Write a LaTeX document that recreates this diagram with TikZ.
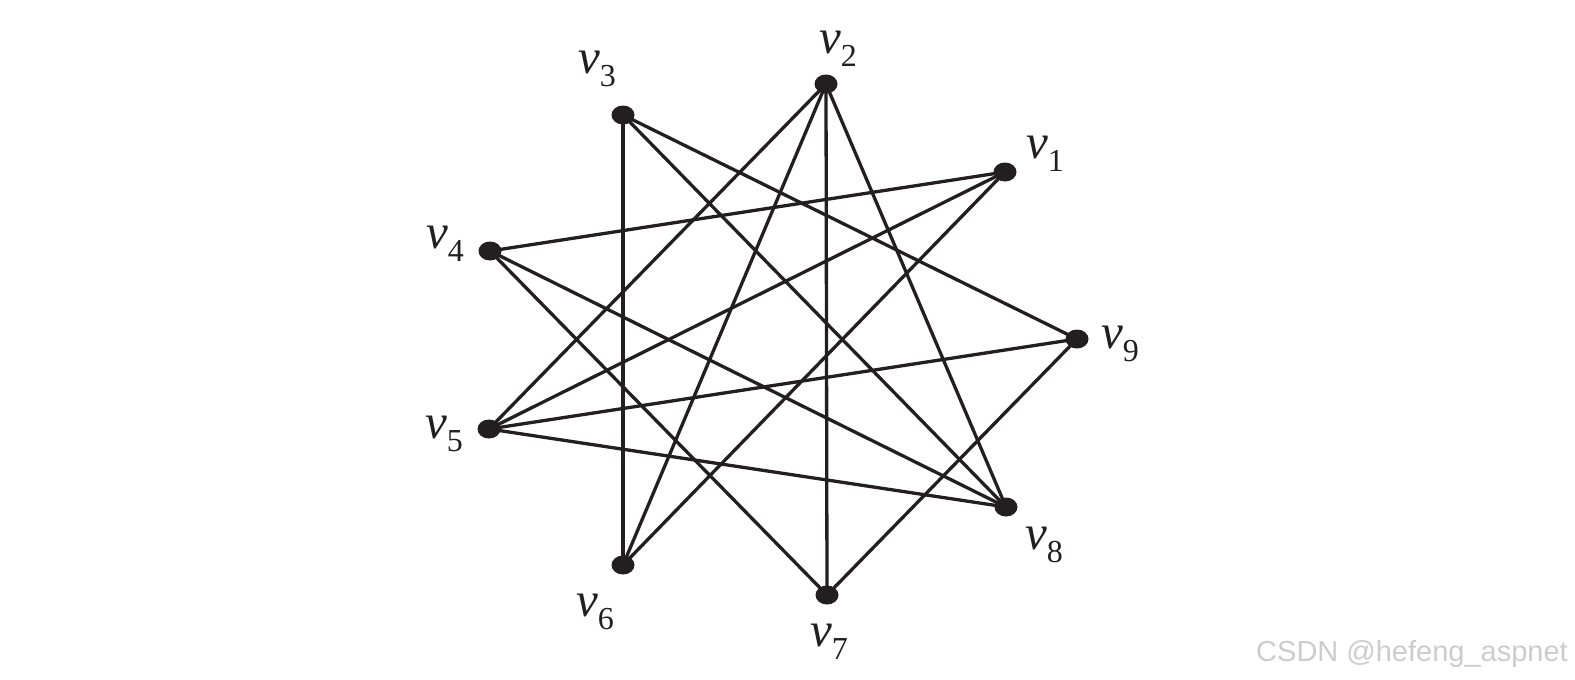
\documentclass[tikz,border=0pt]{standalone}
\usepackage{fontspec}
\setmainfont{Liberation Serif}
\newfontfamily\wmfont{Liberation Sans}
\usetikzlibrary{shapes.geometric,backgrounds}
\definecolor{ink}{HTML}{231F20}
\newcommand{\vlab}[1]{\textit{v}\raisebox{-0.27em}{\fontsize{32}{32}\selectfont #1}}
\begin{document}
\begin{tikzpicture}[x=1pt,y=-1pt,
  vert/.style={ellipse,fill=ink,draw=none,minimum width=23pt,minimum height=19pt,inner sep=0pt},
  vlabel/.style={anchor=base west,inner sep=0pt,font=\fontsize{49}{52}\selectfont,text=ink},
  edge/.style={draw=ink,line width=3.3pt}]
\useasboundingbox (0,0) rectangle (1575,680);
\node[vert] (v1) at (1005,172) {};
\node[vert] (v2) at (826,84) {};
\node[vert] (v3) at (623,115) {};
\node[vert] (v4) at (490,251) {};
\node[vert] (v5) at (489,429) {};
\node[vert] (v6) at (623,565) {};
\node[vert] (v7) at (827,595) {};
\node[vert] (v8) at (1006,507) {};
\node[vert] (v9) at (1077,339) {};
\node[vlabel] (l1) at (1026,158) {\vlab{1}};
\node[vlabel] (l2) at (819,53) {\vlab{2}};
\node[vlabel] (l3) at (578,73) {\vlab{3}};
\node[vlabel] (l4) at (426,248) {\vlab{4}};
\node[vlabel] (l5) at (425,438) {\vlab{5}};
\node[vlabel] (l6) at (576,616) {\vlab{6}};
\node[vlabel] (l7) at (810,646) {\vlab{7}};
\node[vlabel] (l8) at (1025,549) {\vlab{8}};
\node[vlabel] (l9) at (1101,348) {\vlab{9}};
\begin{scope}[on background layer]
\foreach \a/\b in {3/6,3/8,3/9,2/5,2/6,2/7,2/8,1/4,1/5,1/6,4/8,4/7,9/5,9/7,5/8}
  \draw[edge] (v\a.center) -- (v\b.center);
\end{scope}
\node[anchor=base east,inner sep=0pt,font=\wmfont\fontsize{29}{32}\selectfont,text=black!20] (wm) at (1568,661) {CSDN @hefeng\_aspnet};
\end{tikzpicture}
\end{document}
